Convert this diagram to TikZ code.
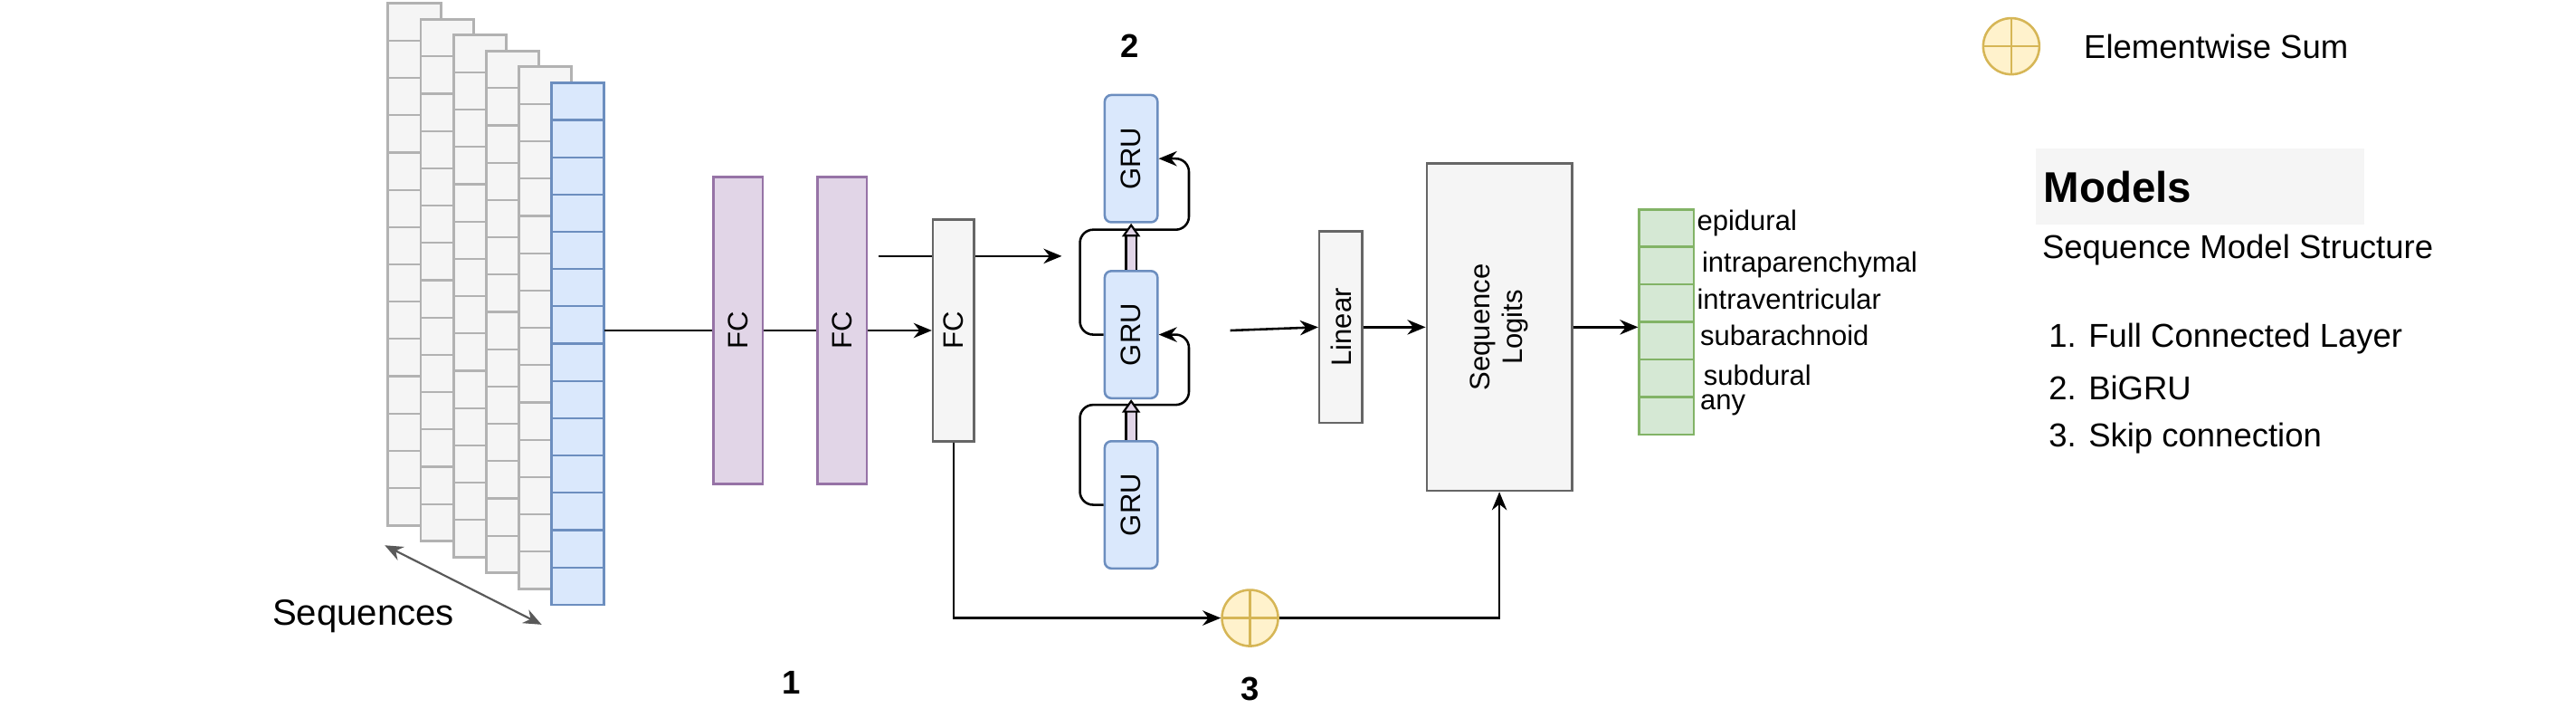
\documentclass[tikz,border=0pt]{standalone}
\usepackage{fontspec}
\setmainfont{Liberation Sans}
\usepackage{tikz}
\usetikzlibrary{arrows.meta,shapes,positioning,calc}
\definecolor{gfill}{HTML}{F5F5F5}
\definecolor{gline}{HTML}{666666}
\definecolor{bfill}{HTML}{DAE8FC}
\definecolor{bline}{HTML}{6C8EBF}
\definecolor{pfill}{HTML}{E1D5E7}
\definecolor{pline}{HTML}{9673A6}
\definecolor{yfill}{HTML}{FFF2CC}
\definecolor{yline}{HTML}{D6B656}
\definecolor{nfill}{HTML}{D5E8D4}
\definecolor{nline}{HTML}{82B366}
\begin{document}
\begin{tikzpicture}[x=1pt, y=-1pt, >={Stealth[length=11pt,width=9pt]}, line width=1.4pt,
  fcbox/.style={draw=pline, fill=pfill, minimum width=30pt, minimum height=186pt, inner sep=0pt},
  greybox/.style={draw=gline, fill=gfill, inner sep=0pt},
  grubox/.style={draw=bline, fill=bfill, rounded corners=4pt, minimum width=32pt, minimum height=77pt, inner sep=0pt},
  sumnode/.style={circle, draw=yline, fill=yfill, minimum size=34pt, inner sep=0pt,
    path picture={\draw[yline] (path picture bounding box.north) -- (path picture bounding box.south)
      (path picture bounding box.west) -- (path picture bounding box.east);}},
  hollow/.style={-{Triangle[open, fill=pfill, length=8pt, width=11pt]}, double=pfill, double distance=5pt, line width=1.2pt},
  lbl/.style={font=\fontsize{17}{17}\selectfont, anchor=west, inner sep=0pt}]
\useasboundingbox (0,0) rectangle (1560,434);
% stacked sequence sheets
\foreach \i in {0,...,4} {
  \pgfmathsetmacro{\sx}{235+19.8*\i}
  \pgfmathsetmacro{\sy}{2+9.6*\i}
  \draw[draw=black!30, fill=gfill, line width=1.6pt] (\sx,\sy) rectangle ++(32,316);
  \foreach \k in {1,...,13} \draw[black!30, line width=1.2pt] (\sx,\sy+22.57*\k) -- ++(32,0);
}
\draw[draw=bline, fill=bfill, line width=1.6pt] (334,50) rectangle (366,366);
\foreach \k in {1,...,13} \draw[bline, line width=1.2pt] (334,50+22.57*\k) -- ++(32,0);
\coordinate (blue) at (366,200);
\coordinate (seqa) at (233,330);
\coordinate (seqb) at (328,378);
\draw[<->, black!65, line width=1.2pt] (seqa) -- (seqb);
\node[font=\fontsize{22}{22}\selectfont] (seqtxt) at (220,373) {Sequences};

% fully connected part
\node[fcbox] (fc1) at (447,200) {};
\node[fcbox] (fc2) at (510,200) {};
\node[rotate=90, font=\fontsize{17}{17}\selectfont] at (fc1) {FC};
\node[rotate=90, font=\fontsize{17}{17}\selectfont] at (fc2) {FC};
\coordinate (fwd) at (532,155);
\coordinate (fwdend) at (643,155);
\draw[->] (fwd) -- (fwdend);
\node[greybox, minimum width=25pt, minimum height=134pt] (fc3) at (577.5,200) {};
\node[rotate=90, font=\fontsize{17}{17}\selectfont] at (fc3) {FC};
\draw (blue) -- (fc1.west) (fc1.east) -- (fc2.west);
\draw[->] (fc2.east) -- (fc3.west);

% BiGRU
\node[grubox] (g3) at (685,96) {};
\node[grubox] (g2) at (685,202.5) {};
\node[grubox] (g1) at (685,305.5) {};
\foreach \g in {g1,g2,g3} \node[rotate=90, font=\fontsize{17}{17}\selectfont] at (\g) {GRU};
\draw[rounded corners=8pt, ->] (g1.west) -- (654,305.5) -- (654,245) -- (720,245) -- (720,202.5) -- (g2.east);
\draw[rounded corners=8pt, ->] (g2.west) -- (654,202.5) -- (654,139) -- (720,139) -- (720,96) -- (g3.east);
\draw[hollow] (g1.north) -- (g2.south);
\draw[hollow] (g2.north) -- (g3.south);

% output head
\coordinate (rnn) at (745,200);
\node[greybox, minimum width=26pt, minimum height=116pt] (lin) at (812,198) {};
\node[rotate=90, font=\fontsize{17}{17}\selectfont] at (lin) {Linear};
\node[greybox, minimum width=88pt, minimum height=198pt] (logit) at (908,198) {};
\node[rotate=90, align=center, font=\fontsize{17}{20}\selectfont] at (logit) {Sequence\\Logits};
\draw[->] (rnn) -- (lin.west);
\draw[->] (lin.east) -- (logit.west);
\foreach \k in {0,...,5}
  \node[draw=nline, fill=nfill, minimum width=33pt, minimum height=22.7pt, inner sep=0pt, anchor=north west] (out\k) at (992,126+22.7*\k) {};
\draw[->] (logit.east) -- (992,198);
\node[lbl] at (1027,135) {epidural};
\node[lbl] at (1030,160) {intraparenchymal};
\node[lbl] at (1027,181) {intraventricular};
\node[lbl] at (1029,203) {subarachnoid};
\node[lbl] at (1031,227) {subdural};
\node[lbl] at (1029,245) {any};

% skip connection
\node[sumnode] (sum) at (757,374) {};
\draw[->] (fc3.south) |- (sum.west);
\draw[->] (sum.east) -| (logit.south);

% section numbers
\node[font=\bfseries\fontsize{20}{20}\selectfont] at (479,413) {1};
\node[font=\bfseries\fontsize{20}{20}\selectfont] at (684,28) {2};
\node[font=\bfseries\fontsize{20}{20}\selectfont] at (757,417) {3};

% legend
\node[sumnode] (legsum) at (1218,28) {};
\node[font=\fontsize{20}{20}\selectfont, anchor=west] (legtxt) at (1258,28) {Elementwise Sum};
\fill[gfill] (1233,90) rectangle (1432,136);
\node[font=\bfseries\fontsize{26}{26}\selectfont, anchor=west, inner sep=0pt] at (1237,113) {Models};
\node[font=\fontsize{20}{20}\selectfont, anchor=west, inner sep=0pt] at (1236,151) {Sequence Model Structure};
\node[font=\fontsize{20}{20}\selectfont, anchor=west, inner sep=0pt] at (1240,205) {1. Full Connected Layer};
\node[font=\fontsize{20}{20}\selectfont, anchor=west, inner sep=0pt] at (1240,235) {2. BiGRU};
\node[font=\fontsize{20}{20}\selectfont, anchor=west, inner sep=0pt] at (1240,265) {3. Skip connection};
\end{tikzpicture}
\end{document}
